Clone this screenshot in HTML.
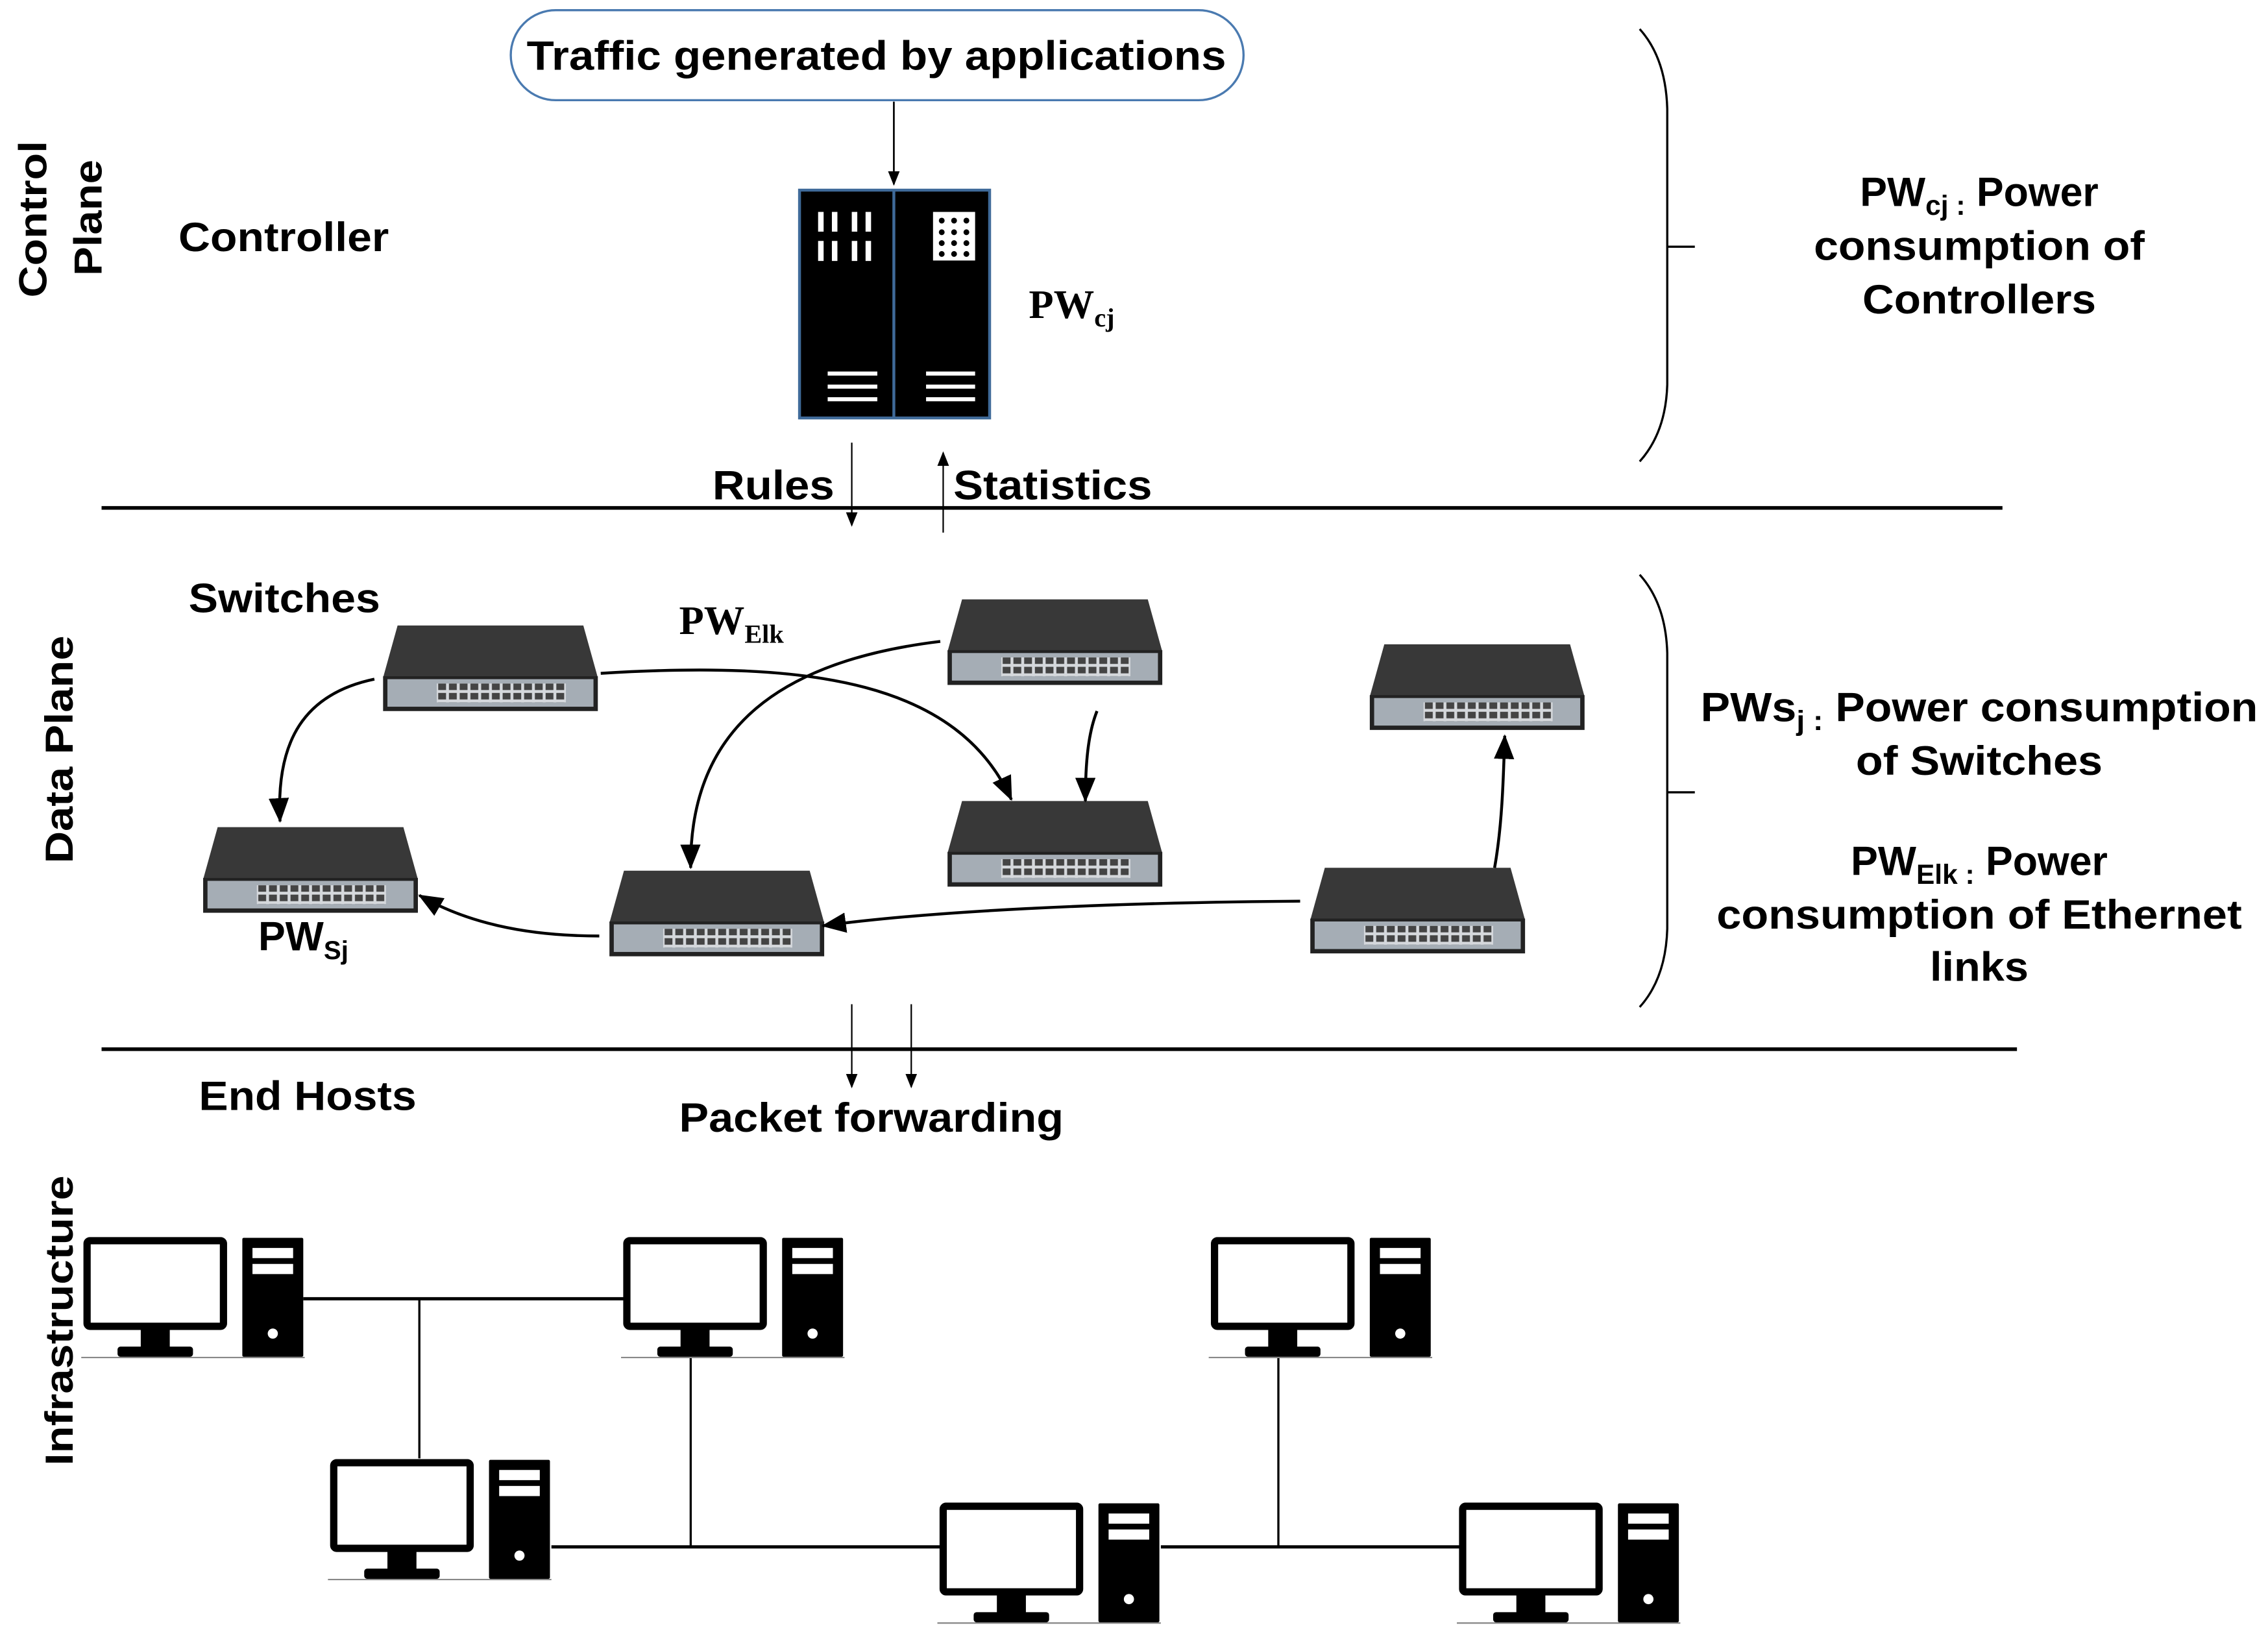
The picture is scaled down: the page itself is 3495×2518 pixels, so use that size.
<!DOCTYPE html>
<html><head><meta charset="utf-8"><style>html,body{margin:0;padding:0;background:#fff}svg{display:block}
.b{font-family:"Liberation Sans Narrow","Liberation Sans",sans-serif;font-weight:bold;font-size:28px;fill:#000}
.r{font-family:"Liberation Sans",sans-serif;font-weight:bold;font-size:27px;fill:#000}
.s{font-family:"Liberation Serif",serif;font-weight:bold;font-size:28px;fill:#000}
</style></head><body>
<svg width="3495" height="2518" viewBox="0 0 1563 1126" xmlns="http://www.w3.org/2000/svg">
<defs>
<marker id="ah" markerWidth="18" markerHeight="14" refX="16" refY="7" orient="auto" markerUnits="userSpaceOnUse"><path d="M0,0 L17,7 L0,14 z" fill="#000"/></marker>
<marker id="sh" markerWidth="10" markerHeight="8" refX="9" refY="4" orient="auto" markerUnits="userSpaceOnUse"><path d="M0,0 L10,4 L0,8 z" fill="#000"/></marker>
<pattern id="pt" width="7.4" height="6.5" patternUnits="userSpaceOnUse"><rect width="7.4" height="6.5" fill="#d5d8dc"/><rect x="1" y="1" width="5.4" height="4.5" fill="#444"/></pattern>
<g id="sw">
<polygon points="10,0 138,0 148,36 0,36" fill="#383838"/>
<rect x="0" y="35" width="148" height="24" fill="#222"/>
<rect x="3" y="37" width="142" height="19" fill="#a5adb5"/>
<rect x="37" y="40" width="89" height="13" fill="url(#pt)"/>
</g>
<g id="pc">
<rect x="2" y="2" width="94" height="59" rx="2" fill="none" stroke="#000" stroke-width="5"/>
<rect x="39" y="63" width="20" height="13" fill="#000"/>
<rect x="23" y="75" width="52" height="7" rx="2" fill="#000"/>
<rect x="109" y="0" width="42" height="82" rx="1" fill="#000"/>
<rect x="116" y="7" width="28" height="7" fill="#fff"/>
<rect x="116" y="18" width="28" height="7" fill="#fff"/>
<circle cx="130" cy="66" r="3.5" fill="#fff"/>
<line x1="-2" y1="82.5" x2="152" y2="82.5" stroke="#888" stroke-width="1"/>
</g>
</defs>

<rect x="352" y="7" width="505" height="62" rx="31" fill="#fff" stroke="#4a7ab0" stroke-width="1.5"/>
<text class="b" x="604" y="48" text-anchor="middle" textLength="482" lengthAdjust="spacingAndGlyphs">Traffic generated by applications</text>
<line x1="616" y1="70" x2="616" y2="127" stroke="#000" stroke-width="1.2" marker-end="url(#sh)"/>

<text class="r" transform="translate(32,205) rotate(-90)" textLength="108" lengthAdjust="spacingAndGlyphs">Control</text>
<text class="r" transform="translate(70,190) rotate(-90)" textLength="80" lengthAdjust="spacingAndGlyphs">Plane</text>
<text class="r" transform="translate(50,595) rotate(-90)" textLength="157" lengthAdjust="spacingAndGlyphs">Data Plane</text>
<text class="r" transform="translate(50,1010) rotate(-90)" textLength="200" lengthAdjust="spacingAndGlyphs">Infrastructure</text>

<text class="b" x="123" y="173" textLength="145" lengthAdjust="spacingAndGlyphs">Controller</text>

<rect x="551" y="131" width="131" height="157" fill="#000" stroke="#3f6a99" stroke-width="2"/>
<line x1="616" y1="131" x2="616" y2="288" stroke="#3f6a99" stroke-width="2"/>
<g fill="#fff">
<rect x="563.8" y="146" width="3.8" height="13.6"/><rect x="573.3" y="146" width="3.8" height="13.6"/><rect x="587" y="146" width="3.8" height="13.6"/><rect x="596.5" y="146" width="3.8" height="13.6"/>
<rect x="563.8" y="166" width="3.8" height="13.8"/><rect x="573.3" y="166" width="3.8" height="13.8"/><rect x="587" y="166" width="3.8" height="13.8"/><rect x="596.5" y="166" width="3.8" height="13.8"/>
<rect x="643" y="146" width="29" height="33.5"/>
<rect x="570.4" y="256" width="34.2" height="2.8"/><rect x="570.4" y="265" width="34.2" height="2.8"/><rect x="570.4" y="273.7" width="34.2" height="2.8"/>
<rect x="638.2" y="256" width="33.8" height="2.8"/><rect x="638.2" y="265" width="33.8" height="2.8"/><rect x="638.2" y="273.7" width="33.8" height="2.8"/>
</g>
<g fill="#000">
<circle cx="649" cy="152" r="2"/><circle cx="657.5" cy="152" r="2"/><circle cx="666" cy="152" r="2"/>
<circle cx="649" cy="160" r="2"/><circle cx="657.5" cy="160" r="2"/><circle cx="666" cy="160" r="2"/>
<circle cx="649" cy="167.5" r="2"/><circle cx="657.5" cy="167.5" r="2"/><circle cx="666" cy="167.5" r="2"/>
<circle cx="649" cy="175" r="2"/><circle cx="657.5" cy="175" r="2"/><circle cx="666" cy="175" r="2"/>
</g>
<text class="s" x="709" y="219">PW<tspan font-size="18" dy="6">cj</tspan></text>

<line x1="587" y1="305" x2="587" y2="362" stroke="#000" stroke-width="1" marker-end="url(#sh)"/>
<line x1="650" y1="367" x2="650" y2="312" stroke="#000" stroke-width="1" marker-end="url(#sh)"/>
<text class="b" x="491" y="344" textLength="84" lengthAdjust="spacingAndGlyphs">Rules</text>
<text class="b" x="657" y="344" textLength="137" lengthAdjust="spacingAndGlyphs">Statistics</text>
<line x1="70" y1="350" x2="1380" y2="350" stroke="#000" stroke-width="2.5"/>

<path d="M1130,20 Q1148,40 1149,75 L1149,265 Q1148,298 1130,318" fill="none" stroke="#000" stroke-width="1.5"/>
<line x1="1149" y1="170" x2="1168" y2="170" stroke="#000" stroke-width="1.5"/>
<path d="M1130,396 Q1148,416 1149,450 L1149,640 Q1148,674 1130,694" fill="none" stroke="#000" stroke-width="1.5"/>
<line x1="1149" y1="546" x2="1168" y2="546" stroke="#000" stroke-width="1.5"/>

<text class="b" x="1364" y="142" text-anchor="middle" font-size="30">PW<tspan font-size="19" dy="6">cj :</tspan><tspan dy="-6"> Power</tspan></text>
<text class="b" x="1364" y="179" text-anchor="middle" textLength="228" lengthAdjust="spacingAndGlyphs">consumption of</text>
<text class="b" x="1364" y="216" text-anchor="middle" textLength="161" lengthAdjust="spacingAndGlyphs">Controllers</text>
<text class="b" x="1172" y="497" font-size="30" textLength="384" lengthAdjust="spacingAndGlyphs">PWs<tspan font-size="19" dy="6">j :</tspan><tspan dy="-6"> Power consumption</tspan></text>
<text class="b" x="1364" y="534" text-anchor="middle" textLength="170" lengthAdjust="spacingAndGlyphs">of Switches</text>
<text class="b" x="1364" y="603" text-anchor="middle" font-size="30">PW<tspan font-size="19" dy="6">Elk :</tspan><tspan dy="-6"> Power</tspan></text>
<text class="b" x="1364" y="640" text-anchor="middle" textLength="362" lengthAdjust="spacingAndGlyphs">consumption of Ethernet</text>
<text class="b" x="1364" y="676" text-anchor="middle" textLength="68" lengthAdjust="spacingAndGlyphs">links</text>

<text class="b" x="130" y="422" textLength="132" lengthAdjust="spacingAndGlyphs">Switches</text>
<text class="s" x="468" y="437">PW<tspan font-size="18" dy="6">Elk</tspan></text>
<use href="#sw" x="264" y="431"/>
<use href="#sw" x="653" y="413"/>
<use href="#sw" x="944" y="444"/>
<use href="#sw" x="653" y="552"/>
<use href="#sw" x="140" y="570"/>
<use href="#sw" x="420" y="600"/>
<use href="#sw" x="903" y="598"/>
<text class="b" x="178" y="655">PW<tspan font-size="18" dy="6">Sj</tspan></text>
<g fill="none" stroke="#000" stroke-width="2" marker-end="url(#ah)">
<path d="M258,468 C210,478 190,510 193,566"/>
<path d="M414,464 C560,455 660,470 697,551"/>
<path d="M648,442 C540,455 475,500 476,598"/>
<path d="M756,490 C750,505 748,525 748,552"/>
<path d="M896,621 C760,622 640,628 567,638"/>
<path d="M413,645 C360,645 320,635 289,617"/>
<path d="M1030,598 C1035,570 1036,540 1037,507"/>
</g>

<line x1="70" y1="723" x2="1390" y2="723" stroke="#000" stroke-width="2.5"/>
<line x1="587" y1="692" x2="587" y2="749" stroke="#000" stroke-width="1" marker-end="url(#sh)"/>
<line x1="628" y1="692" x2="628" y2="749" stroke="#000" stroke-width="1" marker-end="url(#sh)"/>
<text class="b" x="137" y="765" textLength="150" lengthAdjust="spacingAndGlyphs">End Hosts</text>
<text class="b" x="468" y="780" textLength="265" lengthAdjust="spacingAndGlyphs">Packet forwarding</text>

<g stroke="#000" stroke-width="2.2">
<line x1="209" y1="895" x2="431" y2="895"/>
<line x1="380" y1="1066" x2="650" y2="1066"/>
<line x1="800" y1="1066" x2="1008" y2="1066"/>
</g>
<g stroke="#000" stroke-width="1.5">
<line x1="289" y1="895" x2="289" y2="1005"/>
<line x1="476" y1="936" x2="476" y2="1066"/>
<line x1="881" y1="936" x2="881" y2="1066"/>
</g>
<use href="#pc" x="58" y="853"/>
<use href="#pc" x="430" y="853"/>
<use href="#pc" x="835" y="853"/>
<use href="#pc" x="228" y="1006"/>
<use href="#pc" x="648" y="1036"/>
<use href="#pc" x="1006" y="1036"/>
</svg>
</body></html>
